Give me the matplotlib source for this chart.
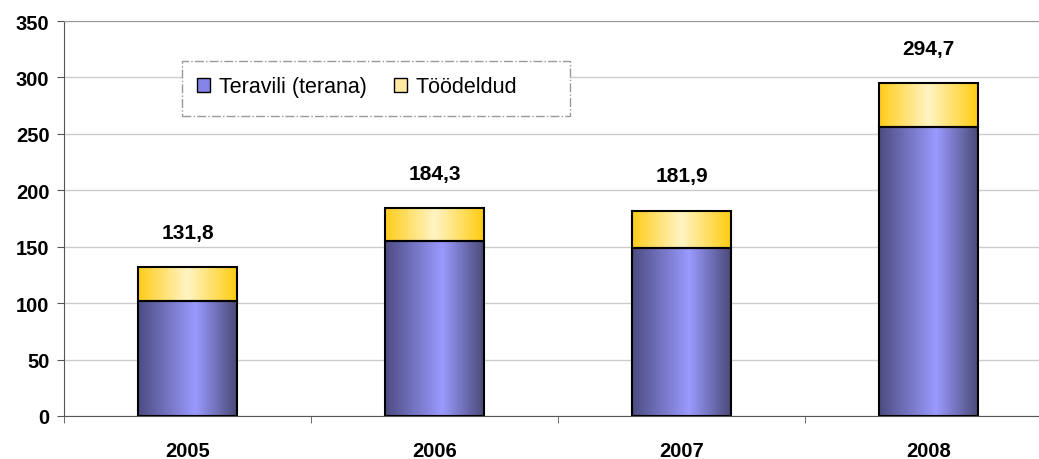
import matplotlib.pyplot as plt
import numpy as np
from matplotlib.colors import LinearSegmentedColormap
from matplotlib.patches import Patch, Rectangle

plt.rcParams['font.family'] = ['Liberation Sans', 'DejaVu Sans']

years = ['2005', '2006', '2007', '2008']
fresh = [102.0, 155.0, 149.0, 256.0]
processed = [29.8, 29.3, 32.9, 38.7]
totals = [131.8, 184.3, 181.9, 294.7]
series_names = ['Teravili (terana)', 'Töödeldud']

blue_cmap = LinearSegmentedColormap.from_list(
    'blue', [(0, '#4c4c82'), (0.58, '#9a9aff'), (1, '#4a4a78')])
yellow_cmap = LinearSegmentedColormap.from_list(
    'yellow', [(0, '#ffcc1a'), (0.5, '#fff4c4'), (1, '#ffcc10')])

fig = plt.figure(figsize=(10.39, 4.60), dpi=100)
ax = fig.add_axes([64 / 1039, 1 - 417 / 460, 988 / 1039, 395 / 460])

grad = np.linspace(0, 1, 256).reshape(1, -1)
width = 0.4
x = np.arange(len(years))

for i in range(len(years)):
    x0, x1 = x[i] - width / 2, x[i] + width / 2
    ax.imshow(grad, cmap=blue_cmap, extent=[x0, x1, 0, fresh[i]],
              aspect='auto', zorder=2, interpolation='bilinear')
    ax.imshow(grad, cmap=yellow_cmap, extent=[x0, x1, fresh[i], fresh[i] + processed[i]],
              aspect='auto', zorder=2, interpolation='bilinear')

ax.bar(x, fresh, width, facecolor='none', edgecolor='black', linewidth=1.5, zorder=3)
ax.bar(x, processed, width, bottom=fresh, facecolor='none', edgecolor='black',
       linewidth=1.5, zorder=3)

for i, t in enumerate(totals):
    ax.annotate(f'{t:.1f}'.replace('.', ','), (x[i], t), xytext=(0, 25),
                textcoords='offset points', ha='center', va='center',
                fontsize=15, fontweight='bold')

ax.set_xlim(-0.5, 3.5)
ax.set_ylim(0, 350)
ax.set_yticks(range(0, 351, 50))
ax.set_xticks(x)
ax.set_xticklabels(years, fontsize=14.5, fontweight='bold')
ax.set_xticks(np.arange(-0.5, 4, 1), minor=True)
ax.tick_params(axis='x', which='major', length=0, pad=18)
ax.tick_params(axis='x', which='minor', length=5, color='#555555', direction='out')
ax.tick_params(axis='y', length=5, color='#555555', direction='out', pad=5.5)
for lbl in ax.get_yticklabels():
    lbl.set_fontsize(14.5)
    lbl.set_fontweight('bold')

ax.grid(axis='y', color='#cccccc', linewidth=1)
ax.set_axisbelow(True)
ax.spines['left'].set_color('#555555')
ax.spines['bottom'].set_color('#555555')
ax.spines['top'].set_color('#999999')
ax.spines['right'].set_visible(False)

# legend box drawn separately (Excel style, wider on the right)
box = Rectangle((0.1194, 0.7595), 0.3927, 0.1392, transform=ax.transAxes,
                facecolor='white', edgecolor='#999999', linestyle='-.',
                linewidth=1, zorder=4)
ax.add_patch(box)

handles = [Patch(facecolor='#8585e8', edgecolor='black', label=series_names[0]),
           Patch(facecolor='#ffe8a0', edgecolor='black', label=series_names[1])]
leg = ax.legend(handles=handles, loc='center left', bbox_to_anchor=(0.1346, 0.833),
                ncol=2, fontsize=15.5, frameon=False, borderpad=0, borderaxespad=0,
                handlelength=0.6, handleheight=0.6, handletextpad=0.4,
                columnspacing=1.3)
leg.set_zorder(5)

fig.savefig('out.png', dpi=100)
